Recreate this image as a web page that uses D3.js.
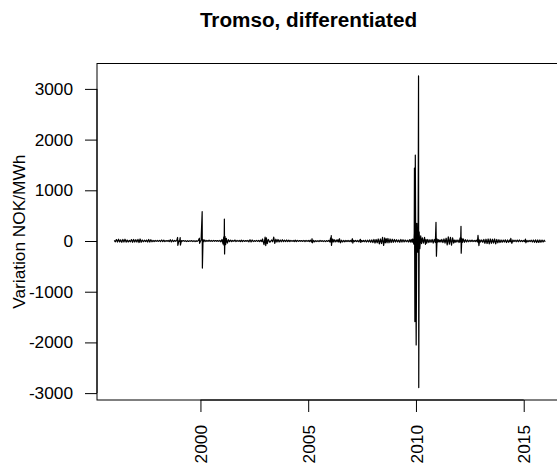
<!DOCTYPE html>
<html>
<head>
<meta charset="utf-8">
<script src="https://cdn.jsdelivr.net/npm/d3@7"></script>
<style>
  body { margin: 0; background: #fff; }
  svg { display: block; font-family: "Liberation Sans", Arial, Helvetica, sans-serif; }
</style>
</head>
<body>
<script>
// chart text
const title = "Tromso, differentiated";
const yLabel = "Variation NOK/MWh";
const xTicks = [2000, 2005, 2010, 2015];
const yTicks = [-3000, -2000, -1000, 0, 1000, 2000, 3000];

// [decimal year, change in NOK/MWh]
const series = [
  [1996.00, 12], [1996.05, -15], [1996.10, 28], [1996.15, -20], [1996.20, 35], [1996.25, -18], [1996.30, 22], [1996.35, -25], [1996.40, 30], [1996.45, -20],
  [1996.50, 35], [1996.55, -22], [1996.60, 18], [1996.65, -20], [1996.70, 12], [1996.75, -15], [1996.80, 28], [1996.85, -25], [1996.90, 30], [1996.95, -20],
  [1997.00, 25], [1997.05, -20], [1997.10, 32], [1997.15, -30], [1997.20, 40], [1997.25, -25], [1997.30, 20], [1997.35, -15], [1997.40, 15], [1997.45, -12],
  [1997.50, 18], [1997.55, -20], [1997.60, 30], [1997.65, -22], [1997.70, 25], [1997.75, -15], [1997.80, 12], [1997.85, -10], [1997.90, 10], [1997.95, -8],
  [1998.00, 10], [1998.05, -8], [1998.10, 12], [1998.15, -10], [1998.20, 20], [1998.25, -12], [1998.30, 15], [1998.35, -10], [1998.40, 8], [1998.45, -6],
  [1998.50, 10], [1998.55, -12], [1998.60, 25], [1998.65, -18], [1998.70, 20], [1998.75, -12], [1998.80, 10], [1998.85, -6], [1998.90, 8],
  [1998.94, 70], [1998.95, -85], [1999.00, 5], [1999.03, -6], [1999.06, 65], [1999.07, -80], [1999.12, 8], [1999.15, -6], [1999.20, 8], [1999.25, -6],
  [1999.30, 6], [1999.35, -10], [1999.40, 6], [1999.45, -8], [1999.50, 5], [1999.55, -6], [1999.60, 8], [1999.65, -10], [1999.70, 8], [1999.75, -12],
  [1999.80, 6], [1999.85, -8], [1999.90, 10], [1999.95, 55], [1999.96, -45],
  [2000.03, 20], [2000.08, 578], [2000.09, -533], [2000.12, 30], [2000.16, -12], [2000.20, 20], [2000.25, -10], [2000.30, 12], [2000.35, -8], [2000.40, 15],
  [2000.45, -8], [2000.50, 10], [2000.55, -8], [2000.60, 12], [2000.65, -6], [2000.70, 8], [2000.75, -6], [2000.80, 10], [2000.85, -8], [2000.90, 12], [2000.95, -15],
  [2001.00, 30], [2001.05, -60], [2001.08, 80], [2001.10, -90], [2001.11, 434], [2001.12, -256], [2001.14, 90], [2001.17, -70], [2001.20, 50], [2001.25, -40],
  [2001.30, 25], [2001.35, -12], [2001.40, 15], [2001.45, -10], [2001.50, 10], [2001.55, -8], [2001.60, 20], [2001.65, -12], [2001.70, 12], [2001.75, -8],
  [2001.80, 10], [2001.85, -10], [2001.90, 15], [2001.95, -10],
  [2002.00, 12], [2002.05, -8], [2002.10, 8], [2002.15, -6], [2002.20, 10], [2002.25, -15], [2002.30, 25], [2002.35, -18], [2002.40, 20], [2002.45, -10],
  [2002.50, 8], [2002.55, -8], [2002.60, 12], [2002.65, -8], [2002.70, 10], [2002.75, -10], [2002.80, 15], [2002.85, -12], [2002.88, 40], [2002.95, -70],
  [2003.00, 75], [2003.03, -90], [2003.06, 60], [2003.10, -50], [2003.15, 30], [2003.22, -25], [2003.30, 20], [2003.35, -15], [2003.40, 77], [2003.45, -45],
  [2003.50, 35], [2003.55, -20], [2003.60, 30], [2003.65, -18], [2003.70, 20], [2003.75, -15], [2003.80, 25], [2003.85, -12], [2003.90, 15], [2003.95, -12],
  [2004.00, 20], [2004.05, -12], [2004.10, 15], [2004.15, -10], [2004.20, 12], [2004.25, -8], [2004.30, 10], [2004.35, -10], [2004.40, 15], [2004.45, -10],
  [2004.50, 12], [2004.55, -8], [2004.60, 10], [2004.65, -6], [2004.70, 8], [2004.75, -8], [2004.80, 12], [2004.85, -10], [2004.90, 10], [2004.95, -8],
  [2005.00, 10], [2005.05, -10], [2005.10, 15], [2005.15, -20], [2005.18, 45], [2005.20, -35], [2005.25, 12], [2005.30, -15], [2005.35, 8], [2005.40, -10],
  [2005.45, 8], [2005.50, -12], [2005.55, 10], [2005.60, -8], [2005.65, 8], [2005.70, -10], [2005.75, 8], [2005.80, -12], [2005.85, 8], [2005.90, -8], [2005.95, 10],
  [2006.00, -15], [2006.04, 60], [2006.06, -30], [2006.07, 105], [2006.08, -85], [2006.12, 40], [2006.16, -20], [2006.20, 30], [2006.25, -18], [2006.30, 20],
  [2006.34, -15], [2006.38, 25], [2006.42, -20], [2006.45, 45], [2006.50, -35], [2006.55, 15], [2006.60, -20], [2006.65, 12], [2006.70, -15], [2006.75, 10],
  [2006.80, -10], [2006.85, 10], [2006.90, -12], [2006.95, 10],
  [2007.00, -15], [2007.05, 45], [2007.07, -40], [2007.11, 12], [2007.15, -10], [2007.20, 10], [2007.25, -12], [2007.30, 10], [2007.35, -18], [2007.42, 32],
  [2007.44, -28], [2007.48, 10], [2007.52, -12], [2007.56, 12], [2007.60, -15], [2007.65, 15], [2007.70, -20], [2007.75, 15], [2007.80, -18], [2007.85, 20],
  [2007.90, -25], [2007.95, 22],
  [2008.00, -30], [2008.05, 30], [2008.10, -40], [2008.15, 30], [2008.20, -35], [2008.25, 40], [2008.30, -55], [2008.35, 40], [2008.40, -50], [2008.45, 70],
  [2008.50, -85], [2008.55, 60], [2008.58, -35], [2008.62, 45], [2008.66, -35], [2008.70, 50], [2008.75, -35], [2008.80, 40], [2008.85, -30], [2008.90, 35], [2008.95, -25],
  [2009.00, 30], [2009.05, -20], [2009.10, 25], [2009.15, -18], [2009.20, 20], [2009.25, -25], [2009.30, 30], [2009.35, -22], [2009.40, 25], [2009.45, -18],
  [2009.50, 20], [2009.55, -15], [2009.60, 15], [2009.65, -20], [2009.70, 25], [2009.74, -20], [2009.78, 30], [2009.82, -25], [2009.85, 40], [2009.90, -60],
  [2009.92, 150], [2009.93, 1440], [2009.95, -1590], [2009.97, 1696], [2010.01, -2050], [2010.04, 350], [2010.07, -220], [2010.10, 200], [2010.12, 3255], [2010.13, -2890],
  [2010.15, 180], [2010.18, -150], [2010.22, 100], [2010.26, -50], [2010.30, 60], [2010.35, -40], [2010.40, 70], [2010.44, -65], [2010.47, 30], [2010.50, -40],
  [2010.55, 30], [2010.60, -30], [2010.65, 25], [2010.70, -25], [2010.75, 30], [2010.80, -40], [2010.85, 30], [2010.90, -30],
  [2010.93, 370], [2010.95, -300], [2010.98, 40],
  [2011.02, -20], [2011.05, 25], [2011.08, -18], [2011.12, 20], [2011.16, -20], [2011.20, 30], [2011.25, -30], [2011.30, 40], [2011.35, -40], [2011.40, 55],
  [2011.45, -75], [2011.50, 80], [2011.55, -60], [2011.60, 70], [2011.65, -80], [2011.70, 60], [2011.75, -40], [2011.78, 20], [2011.82, -25], [2011.86, 18],
  [2011.90, -20], [2011.95, 20],
  [2012.00, -30], [2012.05, 60], [2012.07, -20], [2012.09, 290], [2012.10, -240], [2012.13, 50], [2012.16, -25], [2012.20, 40], [2012.25, -25], [2012.30, 25],
  [2012.35, -18], [2012.40, 20], [2012.45, -15], [2012.50, 15], [2012.55, -12], [2012.60, 18], [2012.65, -12], [2012.70, 12], [2012.75, -10], [2012.80, 15],
  [2012.85, -20], [2012.88, 110], [2012.92, -90], [2012.96, 25],
  [2013.00, -20], [2013.05, 20], [2013.10, -25], [2013.15, 30], [2013.20, -45], [2013.25, 35], [2013.30, -50], [2013.35, 40], [2013.40, -55], [2013.45, 40],
  [2013.50, -45], [2013.55, 35], [2013.60, -40], [2013.65, 40], [2013.70, -55], [2013.75, 30], [2013.80, -35], [2013.85, 25], [2013.90, -30], [2013.95, 20],
  [2014.00, -25], [2014.05, 18], [2014.10, -20], [2014.15, 22], [2014.20, -30], [2014.25, 20], [2014.30, -25], [2014.35, 20], [2014.38, -15], [2014.40, 50],
  [2014.45, -45], [2014.50, 20], [2014.55, -12], [2014.60, 15], [2014.65, -15], [2014.70, 18], [2014.75, -15], [2014.80, 20], [2014.85, -12], [2014.90, 12], [2014.95, -10],
  [2015.00, 10], [2015.04, -12], [2015.08, 38], [2015.10, -35], [2015.15, 12], [2015.20, -15], [2015.25, 10], [2015.30, -12], [2015.35, 15], [2015.40, -20],
  [2015.45, 18], [2015.50, -25], [2015.55, 22], [2015.60, -30], [2015.65, 20], [2015.70, -28], [2015.75, 20], [2015.80, -25], [2015.85, 18], [2015.90, -20],
  [2015.95, 15], [2016.00, -15]
];

const width = 557, height = 470;
const plot = { left: 97, right: 562.5, top: 63.5, bottom: 400 };
const fontSize = 17.25;

// R style: pad data range by 4% on each side
function pad([lo, hi]) {
  const r = hi - lo;
  return [lo - 0.04 * r, hi + 0.04 * r];
}

const x = d3.scaleLinear()
  .domain(pad(d3.extent(series, d => d[0])))
  .range([plot.left, plot.right]);

const y = d3.scaleLinear()
  .domain(pad(d3.extent(series, d => d[1])))
  .range([plot.bottom, plot.top]);

const svg = d3.select("body").append("svg")
  .attr("width", width)
  .attr("height", height);

// the series
svg.append("path")
  .datum(series)
  .attr("fill", "none")
  .attr("stroke", "#000")
  .attr("stroke-width", 1.2)
  .attr("stroke-linejoin", "round")
  .attr("d", d3.line().x(d => x(d[0])).y(d => y(d[1])));

// plot box
svg.append("rect")
  .attr("x", plot.left)
  .attr("y", plot.top)
  .attr("width", plot.right - plot.left)
  .attr("height", plot.bottom - plot.top)
  .attr("fill", "none")
  .attr("stroke", "#000")
  .attr("stroke-width", 1);

// y axis
const yAxis = svg.append("g")
  .attr("transform", `translate(${plot.left},0)`)
  .call(d3.axisLeft(y).tickValues(yTicks).tickSize(12).tickPadding(12).tickSizeOuter(0));
yAxis.select(".domain").remove();
yAxis.append("line")
  .attr("y1", y(yTicks[0]))
  .attr("y2", y(yTicks[yTicks.length - 1]))
  .attr("stroke", "#000");
yAxis.selectAll(".tick line").attr("stroke", "#000");
yAxis.selectAll(".tick text")
  .attr("font-size", fontSize)
  .attr("fill", "#000")
  .text(d => d);

// x axis
const xAxis = svg.append("g")
  .attr("transform", `translate(0,${plot.bottom})`)
  .call(d3.axisBottom(x).tickValues(xTicks).tickSize(12).tickSizeOuter(0).tickFormat(d3.format("d")));
xAxis.select(".domain").remove();
xAxis.append("line")
  .attr("x1", x(xTicks[0]))
  .attr("x2", x(xTicks[xTicks.length - 1]))
  .attr("stroke", "#000");
xAxis.selectAll(".tick line").attr("stroke", "#000");
xAxis.selectAll(".tick text")
  .attr("font-size", fontSize)
  .attr("fill", "#000")
  .attr("transform", "rotate(-90)")
  .attr("text-anchor", "end")
  .attr("x", -25)
  .attr("y", 0)
  .attr("dy", "0.35em");

// title
svg.append("text")
  .attr("x", 308.5)
  .attr("y", 27)
  .attr("text-anchor", "middle")
  .attr("font-size", fontSize * 1.2)
  .attr("font-weight", "bold")
  .text(title);

// y label
svg.append("text")
  .attr("transform", `translate(25,${(plot.top + plot.bottom) / 2}) rotate(-90)`)
  .attr("text-anchor", "middle")
  .attr("font-size", fontSize)
  .text(yLabel);
</script>
</body>
</html>
